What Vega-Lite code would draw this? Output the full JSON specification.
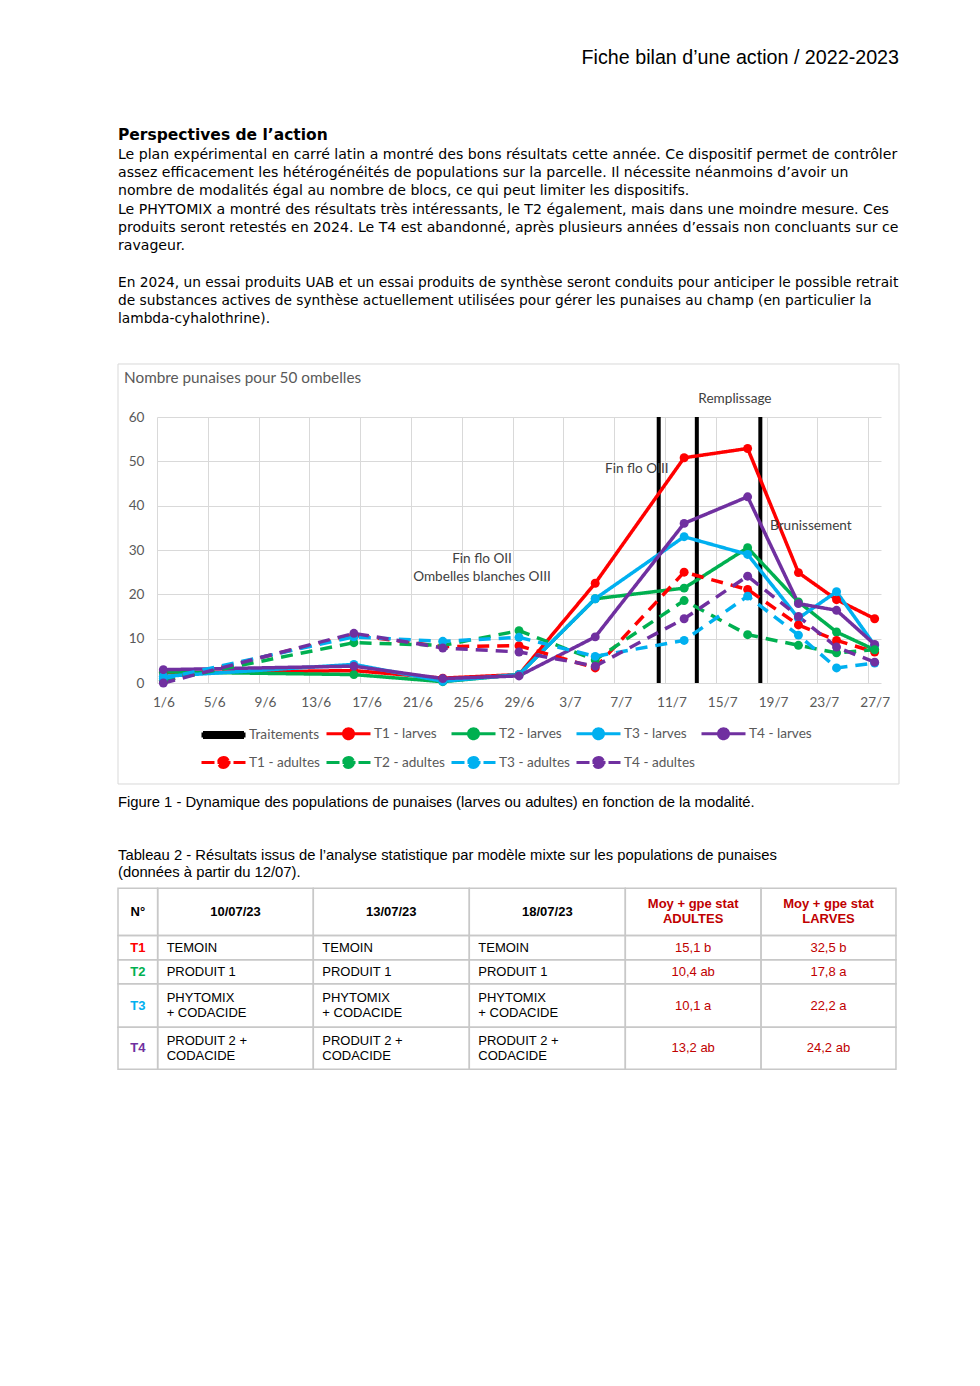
{
 "$schema": "https://vega.github.io/schema/vega-lite/v6.json",
 "background": "white",
 "padding": {"left": 117, "top": 0, "right": 0, "bottom": 0},
 "spacing": 0,
 "resolve": {"scale": {"color": "independent", "strokeDash": "independent"}, "legend": {"color": "independent", "strokeDash": "independent"}},
 "config": {"view": {"stroke": null}},
 "datasets": {
  "body": [
   {"line": 1, "text": "Le plan expérimental en carré latin a montré des bons résultats cette année. Ce dispositif permet de contrôler"},
   {"line": 2, "text": "assez efficacement les hétérogénéités de populations sur la parcelle. Il nécessite néanmoins d’avoir un"},
   {"line": 3, "text": "nombre de modalités égal au nombre de blocs, ce qui peut limiter les dispositifs."},
   {"line": 4, "text": "Le PHYTOMIX a montré des résultats très intéressants, le T2 également, mais dans une moindre mesure. Ces"},
   {"line": 5, "text": "produits seront retestés en 2024. Le T4 est abandonné, après plusieurs années d’essais non concluants sur ce"},
   {"line": 6, "text": "ravageur."}
  ],
  "body2": [
   {"line": 8, "text": "En 2024, un essai produits UAB et un essai produits de synthèse seront conduits pour anticiper le possible retrait"},
   {"line": 9, "text": "de substances actives de synthèse actuellement utilisées pour gérer les punaises au champ (en particulier la"},
   {"line": 10, "text": "lambda-cyhalothrine)."}
  ],
  "punaises": [
   {"date": "2023-06-01", "series": "T1 - larves", "value": 2.3},
   {"date": "2023-06-16", "series": "T1 - larves", "value": 2.8},
   {"date": "2023-06-23", "series": "T1 - larves", "value": 1.1},
   {"date": "2023-06-29", "series": "T1 - larves", "value": 1.9},
   {"date": "2023-07-05", "series": "T1 - larves", "value": 22.5},
   {"date": "2023-07-12", "series": "T1 - larves", "value": 50.8},
   {"date": "2023-07-17", "series": "T1 - larves", "value": 52.9},
   {"date": "2023-07-21", "series": "T1 - larves", "value": 24.9},
   {"date": "2023-07-24", "series": "T1 - larves", "value": 18.8},
   {"date": "2023-07-27", "series": "T1 - larves", "value": 14.5},
   {"date": "2023-06-01", "series": "T2 - larves", "value": 2.5},
   {"date": "2023-06-16", "series": "T2 - larves", "value": 1.9},
   {"date": "2023-06-23", "series": "T2 - larves", "value": 0.3},
   {"date": "2023-06-29", "series": "T2 - larves", "value": 1.9},
   {"date": "2023-07-05", "series": "T2 - larves", "value": 19.0},
   {"date": "2023-07-12", "series": "T2 - larves", "value": 21.4},
   {"date": "2023-07-17", "series": "T2 - larves", "value": 30.5},
   {"date": "2023-07-21", "series": "T2 - larves", "value": 18.3},
   {"date": "2023-07-24", "series": "T2 - larves", "value": 11.5},
   {"date": "2023-07-27", "series": "T2 - larves", "value": 7.5},
   {"date": "2023-06-01", "series": "T3 - larves", "value": 1.5},
   {"date": "2023-06-16", "series": "T3 - larves", "value": 4.2},
   {"date": "2023-06-23", "series": "T3 - larves", "value": 0.4},
   {"date": "2023-06-29", "series": "T3 - larves", "value": 1.9},
   {"date": "2023-07-05", "series": "T3 - larves", "value": 19.0},
   {"date": "2023-07-12", "series": "T3 - larves", "value": 33.0},
   {"date": "2023-07-17", "series": "T3 - larves", "value": 29.0},
   {"date": "2023-07-21", "series": "T3 - larves", "value": 14.6},
   {"date": "2023-07-24", "series": "T3 - larves", "value": 20.6},
   {"date": "2023-07-27", "series": "T3 - larves", "value": 8.5},
   {"date": "2023-06-01", "series": "T4 - larves", "value": 3.0},
   {"date": "2023-06-16", "series": "T4 - larves", "value": 3.8},
   {"date": "2023-06-23", "series": "T4 - larves", "value": 1.0},
   {"date": "2023-06-29", "series": "T4 - larves", "value": 1.6},
   {"date": "2023-07-05", "series": "T4 - larves", "value": 10.4},
   {"date": "2023-07-12", "series": "T4 - larves", "value": 36.0},
   {"date": "2023-07-17", "series": "T4 - larves", "value": 42.0},
   {"date": "2023-07-21", "series": "T4 - larves", "value": 17.9},
   {"date": "2023-07-24", "series": "T4 - larves", "value": 16.4},
   {"date": "2023-07-27", "series": "T4 - larves", "value": 8.7},
   {"date": "2023-06-01", "series": "T1 - adultes", "value": 0.5},
   {"date": "2023-06-16", "series": "T1 - adultes", "value": 10.8},
   {"date": "2023-06-23", "series": "T1 - adultes", "value": 8.2},
   {"date": "2023-06-29", "series": "T1 - adultes", "value": 8.4},
   {"date": "2023-07-05", "series": "T1 - adultes", "value": 3.4},
   {"date": "2023-07-12", "series": "T1 - adultes", "value": 25.0},
   {"date": "2023-07-17", "series": "T1 - adultes", "value": 21.1},
   {"date": "2023-07-21", "series": "T1 - adultes", "value": 13.1},
   {"date": "2023-07-24", "series": "T1 - adultes", "value": 9.6},
   {"date": "2023-07-27", "series": "T1 - adultes", "value": 7.0},
   {"date": "2023-06-01", "series": "T2 - adultes", "value": 0.5},
   {"date": "2023-06-16", "series": "T2 - adultes", "value": 9.1},
   {"date": "2023-06-23", "series": "T2 - adultes", "value": 8.5},
   {"date": "2023-06-29", "series": "T2 - adultes", "value": 11.8},
   {"date": "2023-07-05", "series": "T2 - adultes", "value": 5.2},
   {"date": "2023-07-12", "series": "T2 - adultes", "value": 18.6},
   {"date": "2023-07-17", "series": "T2 - adultes", "value": 10.9},
   {"date": "2023-07-21", "series": "T2 - adultes", "value": 8.5},
   {"date": "2023-07-24", "series": "T2 - adultes", "value": 6.8},
   {"date": "2023-07-27", "series": "T2 - adultes", "value": 7.5},
   {"date": "2023-06-01", "series": "T3 - adultes", "value": 1.0},
   {"date": "2023-06-16", "series": "T3 - adultes", "value": 10.4},
   {"date": "2023-06-23", "series": "T3 - adultes", "value": 9.4},
   {"date": "2023-06-29", "series": "T3 - adultes", "value": 10.3},
   {"date": "2023-07-05", "series": "T3 - adultes", "value": 6.0},
   {"date": "2023-07-12", "series": "T3 - adultes", "value": 9.6},
   {"date": "2023-07-17", "series": "T3 - adultes", "value": 19.6},
   {"date": "2023-07-21", "series": "T3 - adultes", "value": 10.8},
   {"date": "2023-07-24", "series": "T3 - adultes", "value": 3.4},
   {"date": "2023-07-27", "series": "T3 - adultes", "value": 4.5},
   {"date": "2023-06-01", "series": "T4 - adultes", "value": 0.0},
   {"date": "2023-06-16", "series": "T4 - adultes", "value": 11.2},
   {"date": "2023-06-23", "series": "T4 - adultes", "value": 7.9},
   {"date": "2023-06-29", "series": "T4 - adultes", "value": 7.0},
   {"date": "2023-07-05", "series": "T4 - adultes", "value": 3.8},
   {"date": "2023-07-12", "series": "T4 - adultes", "value": 14.5},
   {"date": "2023-07-17", "series": "T4 - adultes", "value": 24.1},
   {"date": "2023-07-21", "series": "T4 - adultes", "value": 15.0},
   {"date": "2023-07-24", "series": "T4 - adultes", "value": 8.1},
   {"date": "2023-07-27", "series": "T4 - adultes", "value": 4.7}
  ],
  "traitements": [
   {"date": "2023-07-10", "series": "Traitements"},
   {"date": "2023-07-13", "series": "Traitements"},
   {"date": "2023-07-18", "series": "Traitements"}
  ],
  "annot_center": [
   {"date": "2023-07-16T00:00:00Z", "value": 64.06, "label": "Remplissage"},
   {"date": "2023-06-26T02:10:00Z", "value": 27.97, "label": "Fin flo OII"},
   {"date": "2023-06-26T02:10:00Z", "value": 23.9, "label": "Ombelles blanches OIII"}
  ],
  "annot_left": [
   {"date": "2023-07-05T18:30:00Z", "value": 48.27, "label": "Fin flo OIII"},
   {"date": "2023-07-18T18:15:00Z", "value": 35.4, "label": "Brunissement"}
  ],
  "cells": [
   {"r": 0, "c": 0, "text": "N°"},
   {"r": 0, "c": 1, "text": "10/07/23"},
   {"r": 0, "c": 2, "text": "13/07/23"},
   {"r": 0, "c": 3, "text": "18/07/23"},
   {"r": 0, "c": 4, "text": "Moy + gpe stat\nADULTES"},
   {"r": 0, "c": 5, "text": "Moy + gpe stat\nLARVES"},
   {"r": 1, "c": 0, "text": "T1"},
   {"r": 1, "c": 1, "text": "TEMOIN"},
   {"r": 1, "c": 2, "text": "TEMOIN"},
   {"r": 1, "c": 3, "text": "TEMOIN"},
   {"r": 1, "c": 4, "text": "15,1 b"},
   {"r": 1, "c": 5, "text": "32,5 b"},
   {"r": 2, "c": 0, "text": "T2"},
   {"r": 2, "c": 1, "text": "PRODUIT 1"},
   {"r": 2, "c": 2, "text": "PRODUIT 1"},
   {"r": 2, "c": 3, "text": "PRODUIT 1"},
   {"r": 2, "c": 4, "text": "10,4 ab"},
   {"r": 2, "c": 5, "text": "17,8 a"},
   {"r": 3, "c": 0, "text": "T3"},
   {"r": 3, "c": 1, "text": "PHYTOMIX\n+ CODACIDE"},
   {"r": 3, "c": 2, "text": "PHYTOMIX\n+ CODACIDE"},
   {"r": 3, "c": 3, "text": "PHYTOMIX\n+ CODACIDE"},
   {"r": 3, "c": 4, "text": "10,1 a"},
   {"r": 3, "c": 5, "text": "22,2 a"},
   {"r": 4, "c": 0, "text": "T4"},
   {"r": 4, "c": 1, "text": "PRODUIT 2 +\nCODACIDE"},
   {"r": 4, "c": 2, "text": "PRODUIT 2 +\nCODACIDE"},
   {"r": 4, "c": 3, "text": "PRODUIT 2 +\nCODACIDE"},
   {"r": 4, "c": 4, "text": "13,2 ab"},
   {"r": 4, "c": 5, "text": "24,2 ab"}
  ],
  "tcols": [
   {"c": 0, "x0": 0, "x1": 8.5, "xc": 4.25},
   {"c": 1, "x0": 8.5, "x1": 41.85, "xc": 25.18},
   {"c": 2, "x0": 41.85, "x1": 75.28, "xc": 58.56},
   {"c": 3, "x0": 75.28, "x1": 108.71, "xc": 92.0},
   {"c": 4, "x0": 108.71, "x1": 137.79, "xc": 123.25},
   {"c": 5, "x0": 137.79, "x1": 166.71, "xc": 152.25}
  ],
  "trows": [
   {"r": 0, "y0": 22.11, "y1": 32.25, "yc": 27.2},
   {"r": 1, "y0": 32.25, "y1": 37.46, "yc": 34.86},
   {"r": 2, "y0": 37.46, "y1": 42.6, "yc": 40.03},
   {"r": 3, "y0": 42.6, "y1": 51.9, "yc": 47.25},
   {"r": 4, "y0": 51.9, "y1": 60.9, "yc": 56.4}
  ]
 },
 "vconcat": [
  {
   "width": 742,
   "height": 362.5,
   "layer": [
    {
     "data": {"values": [{"text": "Fiche bilan d’une action / 2022-2023", "line": -4.3}]},
     "mark": {"type": "text", "align": "right", "baseline": "middle", "font": "Liberation Sans", "fontSize": 19.7, "color": "#000000"},
     "encoding": {
      "x": {"datum": 1, "type": "quantitative", "scale": {"domain": [0, 1], "range": [-39, 742], "nice": false, "zero": false}, "axis": null},
      "y": {"field": "line", "type": "quantitative", "scale": {"domain": [-7.507, 12.389], "reverse": true, "nice": false, "zero": false}, "axis": null},
      "text": {"field": "text", "type": "nominal"}
     }
    },
    {
     "data": {"values": [{"text": "Perspectives de l’action", "line": -0.1}]},
     "mark": {"type": "text", "align": "left", "baseline": "middle", "font": "DejaVu Sans", "fontWeight": "bold", "fontSize": 15.5, "color": "#000000"},
     "encoding": {
      "x": {"datum": 0, "type": "quantitative", "scale": {"domain": [0, 1], "range": [-39, 742], "nice": false, "zero": false}, "axis": null},
      "y": {"field": "line", "type": "quantitative", "scale": {"domain": [-7.507, 12.389], "reverse": true, "nice": false, "zero": false}, "axis": null},
      "text": {"field": "text", "type": "nominal"}
     }
    },
    {
     "data": {"name": "body"},
     "mark": {"type": "text", "align": "left", "baseline": "middle", "font": "DejaVu Sans", "fontSize": 14.1, "color": "#000000"},
     "encoding": {
      "x": {"datum": 0, "type": "quantitative", "scale": {"domain": [0, 1], "range": [-39, 742], "nice": false, "zero": false}, "axis": null},
      "y": {"field": "line", "type": "quantitative", "scale": {"domain": [-7.507, 12.389], "reverse": true, "nice": false, "zero": false}, "axis": null},
      "text": {"field": "text", "type": "nominal"}
     }
    },
    {
     "data": {"name": "body2"},
     "mark": {"type": "text", "align": "left", "baseline": "middle", "font": "DejaVu Sans", "fontSize": 13.75, "color": "#000000"},
     "encoding": {
      "x": {"datum": 0, "type": "quantitative", "scale": {"domain": [0, 1], "range": [-39, 742], "nice": false, "zero": false}, "axis": null},
      "y": {"field": "line", "type": "quantitative", "scale": {"domain": [-7.507, 12.389], "reverse": true, "nice": false, "zero": false}, "axis": null},
      "text": {"field": "text", "type": "nominal"}
     }
    }
   ]
  },
  {
   "width": 724,
   "height": 266,
   "layer": [
    {
     "data": {"values": [{}]},
     "mark": {"type": "rect", "fill": "transparent", "stroke": "#d9d9d9", "strokeWidth": 1},
     "encoding": {
      "x": {"datum": {"year": 2023, "month": 5, "date": 28, "hours": 10, "minutes": 19, "utc": true}, "type": "temporal", "title": null},
      "x2": {"datum": {"year": 2023, "month": 7, "date": 28, "hours": 22, "utc": true}},
      "y": {"datum": 71.955, "type": "quantitative", "title": null},
      "y2": {"datum": -22.78}
     }
    },
    {
     "data": {"name": "traitements"},
     "mark": {"type": "rule", "strokeWidth": 4},
     "encoding": {
      "x": {"field": "date", "type": "temporal", "title": null},
      "y": {"datum": 0, "type": "quantitative", "title": null},
      "y2": {"datum": 60},
      "color": {"field": "series", "type": "nominal",
       "scale": {"domain": ["Traitements", "T1 - larves", "T2 - larves", "T3 - larves", "T4 - larves", "T1 - adultes", "T2 - adultes", "T3 - adultes", "T4 - adultes"],
                 "range": ["#000000", "#FF0000", "#00B050", "#00B0F0", "#7030A0", "#FF0000", "#00B050", "#00B0F0", "#7030A0"]}}
     }
    },
    {
     "data": {"name": "punaises"},
     "mark": {"type": "line", "strokeWidth": 3.5, "point": {"filled": true, "size": 80, "opacity": 1}},
     "encoding": {
      "x": {"field": "date", "type": "temporal", "title": null,
       "scale": {"type": "utc", "nice": false, "domain": [{"year": 2023, "month": 5, "date": 31, "hours": 12, "utc": true}, {"year": 2023, "month": 7, "date": 27, "hours": 12, "utc": true}]},
       "axis": {
        "title": null,
        "values": [
         {"year": 2023, "month": 5, "date": 31, "hours": 12, "utc": true},
         {"year": 2023, "month": 6, "date": 4, "hours": 12, "utc": true},
         {"year": 2023, "month": 6, "date": 8, "hours": 12, "utc": true},
         {"year": 2023, "month": 6, "date": 12, "hours": 12, "utc": true},
         {"year": 2023, "month": 6, "date": 16, "hours": 12, "utc": true},
         {"year": 2023, "month": 6, "date": 20, "hours": 12, "utc": true},
         {"year": 2023, "month": 6, "date": 24, "hours": 12, "utc": true},
         {"year": 2023, "month": 6, "date": 28, "hours": 12, "utc": true},
         {"year": 2023, "month": 7, "date": 2, "hours": 12, "utc": true},
         {"year": 2023, "month": 7, "date": 6, "hours": 12, "utc": true},
         {"year": 2023, "month": 7, "date": 10, "hours": 12, "utc": true},
         {"year": 2023, "month": 7, "date": 14, "hours": 12, "utc": true},
         {"year": 2023, "month": 7, "date": 18, "hours": 12, "utc": true},
         {"year": 2023, "month": 7, "date": 22, "hours": 12, "utc": true},
         {"year": 2023, "month": 7, "date": 26, "hours": 12, "utc": true}
        ],
        "labelExpr": "utcFormat(datum.value + 43200000, '%-d/%-m')",
        "labelOffset": 6.35,
        "labelOverlap": false,
        "labelFlush": false,
        "grid": true, "gridColor": "#d9d9d9", "gridWidth": 1,
        "domain": false, "ticks": false,
        "labelPadding": 12,
        "labelFont": "Lato", "labelFontSize": 13.6, "labelColor": "#595959"
       }
      },
      "y": {"field": "value", "type": "quantitative", "title": null,
       "scale": {"domain": [0, 60], "nice": false, "zero": false},
       "axis": {
        "title": null, "values": [0, 10, 20, 30, 40, 50, 60],
        "grid": true, "gridColor": "#d9d9d9", "gridWidth": 1,
        "domain": false, "ticks": false, "labelPadding": 13,
        "labelFont": "Lato", "labelFontSize": 13.6, "labelColor": "#595959"
       }
      },
      "color": {"field": "series", "type": "nominal",
       "scale": {"domain": ["Traitements", "T1 - larves", "T2 - larves", "T3 - larves", "T4 - larves", "T1 - adultes", "T2 - adultes", "T3 - adultes", "T4 - adultes"],
                 "range": ["#000000", "#FF0000", "#00B050", "#00B0F0", "#7030A0", "#FF0000", "#00B050", "#00B0F0", "#7030A0"]},
       "legend": {
        "title": null, "orient": "none", "legendX": 55, "legendY": 305,
        "direction": "horizontal", "columns": 5, "gridAlign": "all",
        "columnPadding": 0, "rowPadding": 6, "padding": 0,
        "symbolSize": 400, "symbolStrokeWidth": 3, "labelOffset": 14,
        "labelFont": "Lato", "labelFontSize": 13.6, "labelColor": "#595959", "labelLimit": 200,
        "encode": {
         "symbols": {
          "update": {
           "shape": {"signal": "datum.value === 'Traitements' ? 'M-2.05,-0.25H2.05V0.25H-2.05Z' : 'M-2.2,0H2.2M0.5,0A0.5,0.5,0,1,1,-0.5,0A0.5,0.5,0,1,1,0.5,0'"},
           "fill": {"scale": "color", "field": "value"},
           "stroke": {"scale": "color", "field": "value"},
           "strokeDash": {"signal": "indexof(datum.value, 'adultes') >= 0 ? [13, 3] : [1, 0]"},
           "strokeWidth": {"value": 3},
           "size": {"value": 400},
           "opacity": {"value": 1}
          }
         }
        }
       }
      },
      "strokeDash": {"field": "series", "type": "nominal",
       "scale": {"domain": ["T1 - larves", "T2 - larves", "T3 - larves", "T4 - larves", "T1 - adultes", "T2 - adultes", "T3 - adultes", "T4 - adultes"],
                 "range": [[1, 0], [1, 0], [1, 0], [1, 0], [12, 8], [12, 8], [12, 8], [12, 8]]},
       "legend": null}
     }
    },
    {
     "data": {"name": "annot_center"},
     "mark": {"type": "text", "align": "center", "baseline": "middle", "font": "Lato", "fontSize": 13.6, "color": "#404040"},
     "encoding": {
      "x": {"field": "date", "type": "temporal", "title": null},
      "y": {"field": "value", "type": "quantitative", "title": null},
      "text": {"field": "label", "type": "nominal"}
     }
    },
    {
     "data": {"name": "annot_left"},
     "mark": {"type": "text", "align": "left", "baseline": "middle", "font": "Lato", "fontSize": 13.6, "color": "#404040"},
     "encoding": {
      "x": {"field": "date", "type": "temporal", "title": null},
      "y": {"field": "value", "type": "quantitative", "title": null},
      "text": {"field": "label", "type": "nominal"}
     }
    },
    {
     "data": {"values": [{"text": "Nombre punaises pour 50 ombelles"}]},
     "mark": {"type": "text", "align": "left", "baseline": "middle", "font": "Lato", "fontSize": 15.3, "color": "#595959"},
     "encoding": {
      "x": {"datum": {"year": 2023, "month": 5, "date": 28, "hours": 21, "minutes": 40, "utc": true}, "type": "temporal", "title": null},
      "y": {"datum": 68.8, "type": "quantitative", "title": null},
      "text": {"field": "text", "type": "nominal"}
     }
    }
   ]
  },
  {
   "width": 742,
   "height": 300,
   "layer": [
    {
     "data": {"values": [{"text": "Figure 1 - Dynamique des populations de punaises (larves ou adultes) en fonction de la modalité."}]},
     "mark": {"type": "text", "align": "left", "baseline": "middle", "font": "Liberation Sans", "fontSize": 14.8, "color": "#000000"},
     "encoding": {
      "x": {"datum": 0, "type": "quantitative", "scale": {"domain": [0, 167.36], "range": [-39, 742], "nice": false, "zero": false}, "axis": null},
      "y": {"datum": 3.75, "type": "quantitative", "scale": {"domain": [0, 64.2857], "reverse": true, "nice": false, "zero": false}, "axis": null},
      "text": {"field": "text", "type": "nominal"}
     }
    },
    {
     "data": {"values": [{"text": "Tableau 2 - Résultats issus de l’analyse statistique par modèle mixte sur les populations de punaises"}]},
     "mark": {"type": "text", "align": "left", "baseline": "middle", "font": "Liberation Sans", "fontSize": 14.8, "color": "#000000"},
     "encoding": {
      "x": {"datum": 0, "type": "quantitative", "scale": {"domain": [0, 167.36], "range": [-39, 742], "nice": false, "zero": false}, "axis": null},
      "y": {"datum": 15.11, "type": "quantitative", "scale": {"domain": [0, 64.2857], "reverse": true, "nice": false, "zero": false}, "axis": null},
      "text": {"field": "text", "type": "nominal"}
     }
    },
    {
     "data": {"values": [{"text": "(données à partir du 12/07)."}]},
     "mark": {"type": "text", "align": "left", "baseline": "middle", "font": "Liberation Sans", "fontSize": 14.8, "color": "#000000"},
     "encoding": {
      "x": {"datum": 0, "type": "quantitative", "scale": {"domain": [0, 167.36], "range": [-39, 742], "nice": false, "zero": false}, "axis": null},
      "y": {"datum": 18.75, "type": "quantitative", "scale": {"domain": [0, 64.2857], "reverse": true, "nice": false, "zero": false}, "axis": null},
      "text": {"field": "text", "type": "nominal"}
     }
    },
    {
     "data": {"name": "cells"},
     "transform": [
      {"lookup": "c", "from": {"data": {"name": "tcols"}, "key": "c", "fields": ["x0", "x1", "xc"]}},
      {"lookup": "r", "from": {"data": {"name": "trows"}, "key": "r", "fields": ["y0", "y1", "yc"]}}
     ],
     "layer": [
      {
       "mark": {"type": "rect", "fill": "transparent", "stroke": "#c8c8c8", "strokeWidth": 1.5},
       "encoding": {
        "x": {"field": "x0", "type": "quantitative", "scale": {"domain": [0, 167.36], "range": [-39, 742], "nice": false, "zero": false}, "axis": null},
        "x2": {"field": "x1"},
        "y": {"field": "y0", "type": "quantitative", "scale": {"domain": [0, 64.2857], "reverse": true, "nice": false, "zero": false}, "axis": null},
        "y2": {"field": "y1"}
       }
      },
      {
       "transform": [{"filter": "datum.r == 0 && datum.c < 4"}],
       "mark": {"type": "text", "align": "center", "baseline": "middle", "font": "Liberation Sans", "fontWeight": "bold", "fontSize": 13, "color": "#000000"},
       "encoding": {
        "x": {"field": "xc", "type": "quantitative"},
        "y": {"field": "yc", "type": "quantitative"},
        "text": {"field": "text", "type": "nominal"}
       }
      },
      {
       "transform": [{"filter": "datum.r == 0 && datum.c >= 4"}],
       "mark": {"type": "text", "align": "center", "baseline": "middle", "dy": -7.5, "font": "Liberation Sans", "fontWeight": "bold", "fontSize": 13, "color": "#C00000", "lineBreak": "\n", "lineHeight": 15},
       "encoding": {
        "x": {"field": "xc", "type": "quantitative"},
        "y": {"field": "yc", "type": "quantitative"},
        "text": {"field": "text", "type": "nominal"}
       }
      },
      {
       "transform": [{"filter": "datum.r > 0 && datum.c == 0"}],
       "mark": {"type": "text", "align": "center", "baseline": "middle", "font": "Liberation Sans", "fontWeight": "bold", "fontSize": 13},
       "encoding": {
        "x": {"field": "xc", "type": "quantitative"},
        "y": {"field": "yc", "type": "quantitative"},
        "text": {"field": "text", "type": "nominal"},
        "color": {"field": "text", "type": "nominal", "scale": {"domain": ["T1", "T2", "T3", "T4"], "range": ["#FF0000", "#00B050", "#00B0F0", "#7030A0"]}, "legend": null}
       }
      },
      {
       "transform": [{"filter": "datum.r > 0 && datum.r < 3 && datum.c >= 1 && datum.c <= 3"}],
       "mark": {"type": "text", "align": "left", "dx": 9, "baseline": "middle", "font": "Liberation Sans", "fontSize": 13, "color": "#000000"},
       "encoding": {
        "x": {"field": "x0", "type": "quantitative"},
        "y": {"field": "yc", "type": "quantitative"},
        "text": {"field": "text", "type": "nominal"}
       }
      },
      {
       "transform": [{"filter": "datum.r >= 3 && datum.c >= 1 && datum.c <= 3"}],
       "mark": {"type": "text", "align": "left", "dx": 9, "dy": -7.5, "baseline": "middle", "font": "Liberation Sans", "fontSize": 13, "color": "#000000", "lineBreak": "\n", "lineHeight": 15},
       "encoding": {
        "x": {"field": "x0", "type": "quantitative"},
        "y": {"field": "yc", "type": "quantitative"},
        "text": {"field": "text", "type": "nominal"}
       }
      },
      {
       "transform": [{"filter": "datum.r > 0 && datum.c >= 4"}],
       "mark": {"type": "text", "align": "center", "baseline": "middle", "font": "Liberation Sans", "fontSize": 13, "color": "#C00000"},
       "encoding": {
        "x": {"field": "xc", "type": "quantitative"},
        "y": {"field": "yc", "type": "quantitative"},
        "text": {"field": "text", "type": "nominal"}
       }
      }
     ]
    }
   ]
  }
 ]
}
